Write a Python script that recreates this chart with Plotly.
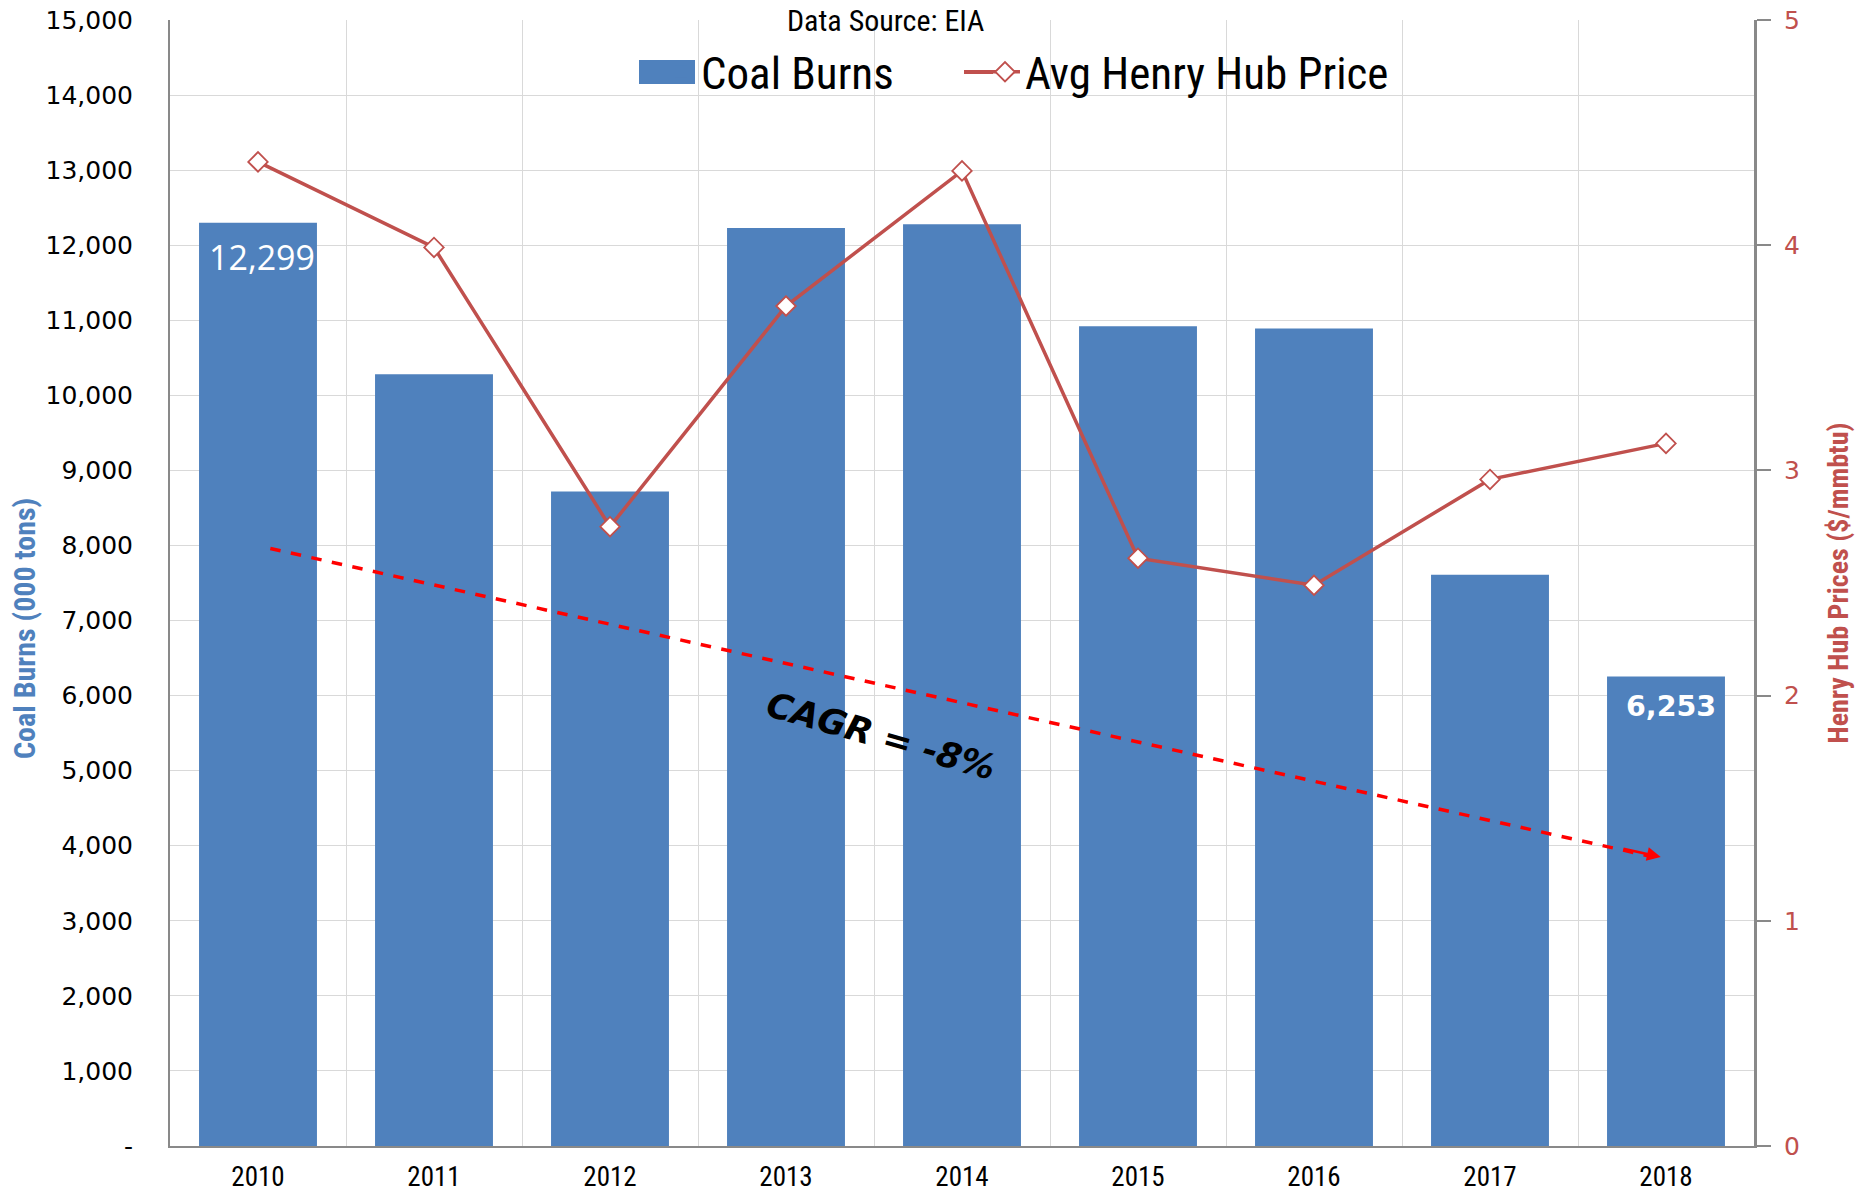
import plotly.graph_objects as go

years = [2010, 2011, 2012, 2013, 2014, 2015, 2016, 2017, 2018]
coal_burns = [12299, 10280, 8720, 12230, 12280, 10920, 10890, 7610, 6253]
henry_hub = [4.37, 3.99, 2.75, 3.73, 4.33, 2.61, 2.49, 2.96, 3.12]
left_ticks = list(range(0, 15001, 1000))
left_ticktext = ["-"] + [f"{v:,}" for v in left_ticks[1:]]
right_ticks = [0, 1, 2, 3, 4, 5]
trend_start = 7960   # trend arrow value at 2010
trend_end = 3850     # trend arrow value at 2018

BLUE = "#4F81BD"
RED = "#C0504D"
NARROW = "Liberation Sans Narrow, Roboto Condensed, Arial Narrow, sans-serif"
WIDE = "DejaVu Sans, Verdana, sans-serif"

W, H = 1862, 1195
ML, MR, MT, MB = 170, 108, 20, 49
pw, ph = W - ML - MR, H - MT - MB


def px_x(px):  # figure pixel -> paper x
    return (px - ML) / pw


def px_y(py):  # figure pixel (from top) -> paper y
    return 1 - (py - MT) / ph


cagr = (coal_burns[-1] / coal_burns[0]) ** (1 / (len(years) - 1)) - 1

fig = go.Figure()
fig.add_trace(go.Bar(
    x=years, y=coal_burns, name="Coal Burns",
    marker=dict(color=BLUE, line=dict(width=0)),
    yaxis="y", legend="legend",
))
fig.add_trace(go.Scatter(
    x=years, y=henry_hub, name="Avg Henry Hub Price", mode="lines+markers",
    line=dict(color=RED, width=3.5),
    marker=dict(symbol="diamond", size=15, color="white", line=dict(color=RED, width=1.8)),
    yaxis="y2", legend="legend2",
))

# Data labels for first and last bars
fig.add_annotation(x=years[0], y=coal_burns[0], xref="x", yref="y",
                   text=f"{coal_burns[0]:,}", showarrow=False, yanchor="top", yshift=-9, xshift=4,
                   font=dict(family="Open Sans, sans-serif", size=34, color="white"))
fig.add_annotation(x=years[-1], y=coal_burns[-1], xref="x", yref="y",
                   text=f"<b>{coal_burns[-1]:,}</b>", showarrow=False, yanchor="top", yshift=-11, xshift=5,
                   font=dict(family=WIDE, size=28.5, color="white"))

# Trend dashed arrow
x_start = years[0] + 0.07
x_end = years[-1] - 0.03
fig.add_shape(type="line", xref="x", yref="y", x0=x_start, y0=trend_start, x1=x_end - 0.04, y1=trend_end,
              line=dict(color="#FF0000", width=3.5, dash="dash"))
slope = (trend_start - trend_end) / (x_end - x_start)
fig.add_annotation(x=x_end, y=trend_end, xref="x", yref="y", ax=x_end - 0.22,
                   ay=trend_end + slope * 0.22,
                   axref="x", ayref="y", text="", showarrow=True, arrowhead=2, arrowsize=1.1,
                   arrowwidth=2.5, arrowcolor="#FF0000")

fig.add_annotation(x=years[0] + 3.54, y=5460, xref="x", yref="y",
                   text=f"<b><i>CAGR = {cagr*100:.0f}%</i></b>",
                   showarrow=False, textangle=16,
                   font=dict(family=WIDE, size=35, color="black"))

fig.add_annotation(x=px_x(885), y=1.0, xref="paper", yref="paper",
                   text="Data Source: EIA", showarrow=False, yanchor="middle",
                   font=dict(family=NARROW, size=30, color="black"))

# Left axis title (sits below the axis centre in the original)
fig.add_annotation(x=px_x(24), y=px_y(629), xref="paper", yref="paper",
                   text="<b>Coal Burns (000 tons)</b>", showarrow=False, textangle=-90,
                   xanchor="center", yanchor="middle",
                   font=dict(family=NARROW, size=30, color=BLUE))

# Legend decoration: white backing and wide swatches
LEG_Y = 72
L1_X, L2_X = 661, 985
fig.add_shape(type="rect", xref="paper", yref="paper", layer="below",
              x0=px_x(628), x1=px_x(1403), y0=px_y(92), y1=px_y(23),
              fillcolor="white", line=dict(width=0))
fig.add_shape(type="rect", xref="paper", yref="paper", layer="below",
              x0=px_x(639), x1=px_x(695), y0=px_y(LEG_Y + 12), y1=px_y(LEG_Y - 12),
              fillcolor=BLUE, line=dict(width=0))
fig.add_shape(type="line", xref="paper", yref="paper", layer="below",
              x0=px_x(964), x1=px_x(L2_X + 8), y0=px_y(LEG_Y), y1=px_y(LEG_Y),
              line=dict(color=RED, width=4))

legend_common = dict(orientation="h", yanchor="middle", xanchor="left",
                     font=dict(family=NARROW, size=45, color="black"),
                     bgcolor="rgba(0,0,0,0)", borderwidth=0)

fig.update_layout(
    width=W, height=H,
    margin=dict(l=ML, r=MR, t=MT, b=MB),
    plot_bgcolor="white", paper_bgcolor="white",
    bargap=0.33,
    showlegend=True,
    legend=dict(x=px_x(L1_X), y=px_y(LEG_Y), **legend_common),
    legend2=dict(x=px_x(L2_X), y=px_y(LEG_Y), **legend_common),
    xaxis=dict(
        range=[years[0] - 0.5, years[-1] + 0.5], tickvals=years, ticktext=[str(y) for y in years],
        showgrid=False, zeroline=False,
        minor=dict(tick0=years[0] - 0.5, dtick=1, showgrid=True, gridcolor="#D9D9D9", gridwidth=1.2, ticks=""),
        showline=True, linecolor="#898989", linewidth=2, ticks="",
        tickfont=dict(family=NARROW, size=27, color="black"), ticklabelstandoff=6,
        ticklabeloverflow="allow", automargin=False,
    ),
    yaxis=dict(
        range=[0, 15000], tickvals=left_ticks, ticktext=left_ticktext,
        showgrid=True, gridcolor="#D9D9D9", gridwidth=1.2,
        showline=True, linecolor="#898989", linewidth=2, ticks="", zeroline=False,
        tickfont=dict(family=WIDE, size=25, color="black"), ticklabelstandoff=30,
        ticklabeloverflow="allow", automargin=False,
    ),
    yaxis2=dict(
        range=[0, 5], tickvals=right_ticks, overlaying="y", side="right",
        showgrid=False, zeroline=False,
        showline=True, linecolor="#898989", linewidth=3,
        ticks="outside", ticklen=14, tickcolor="#898989", tickwidth=1.5,
        tickfont=dict(family=WIDE, size=25, color=RED), ticklabelstandoff=8,
        ticklabeloverflow="allow", automargin=False,
        title=dict(text="<b>Henry Hub Prices ($/mmbtu)</b>", standoff=30,
                   font=dict(family=NARROW, size=28, color=RED)),
    ),
)

fig.write_html("out.html", config={"displayModeBar": False},
               post_script="document.body.style.margin='0';")
